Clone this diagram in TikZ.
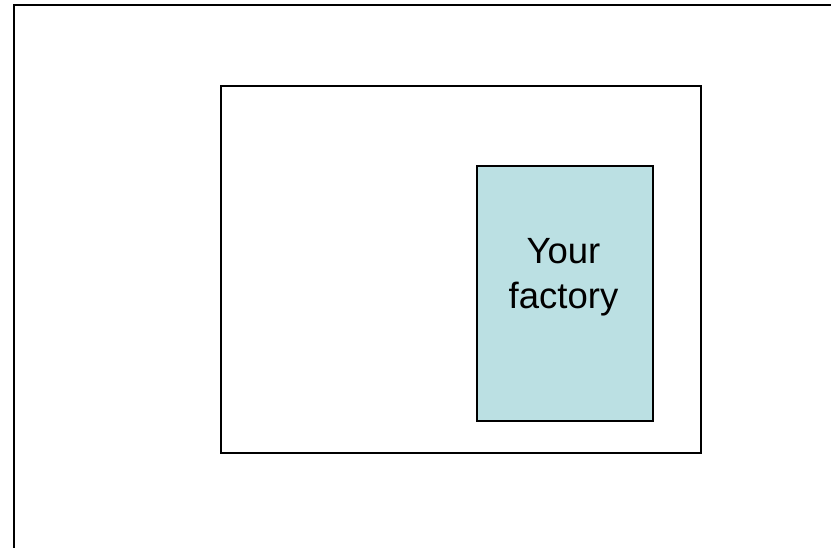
\documentclass[tikz,border=0pt]{standalone}
\usepackage{fontspec}
\setmainfont{Liberation Sans}
\usetikzlibrary{positioning}
\definecolor{factoryblue}{RGB}{187,224,227}

\begin{document}
\begin{tikzpicture}[x=1pt,y=-1pt,
  outerline/.style={draw=black,line width=2pt},
  area/.style={draw=black,line width=1.4pt,rectangle,inner sep=0pt},
  plant/.style={area,fill=factoryblue},
  plantlbl/.style={align=center,font=\fontsize{36.5}{45}\selectfont,inner sep=0pt}
]
  \useasboundingbox (0,0) rectangle (831,548);

  % Outer frame (open to the right and bottom)
  \coordinate (fbl) at (13.5,550);
  \coordinate (ftl) at (13.5,5.5);
  \coordinate (ftr) at (833,5.5);
  \draw[outerline] (fbl) -- (ftl) -- (ftr);

  % Site and factory
  \node[area,minimum width=480pt,minimum height=367pt] (site) at (461,269.5) {};
  \node[plant,minimum width=176pt,minimum height=255pt] (factory) at (565,293.5) {};
  \node[plantlbl,anchor=north] (factorylbl) at (563.5,238) {Your\\factory};
\end{tikzpicture}
\end{document}
